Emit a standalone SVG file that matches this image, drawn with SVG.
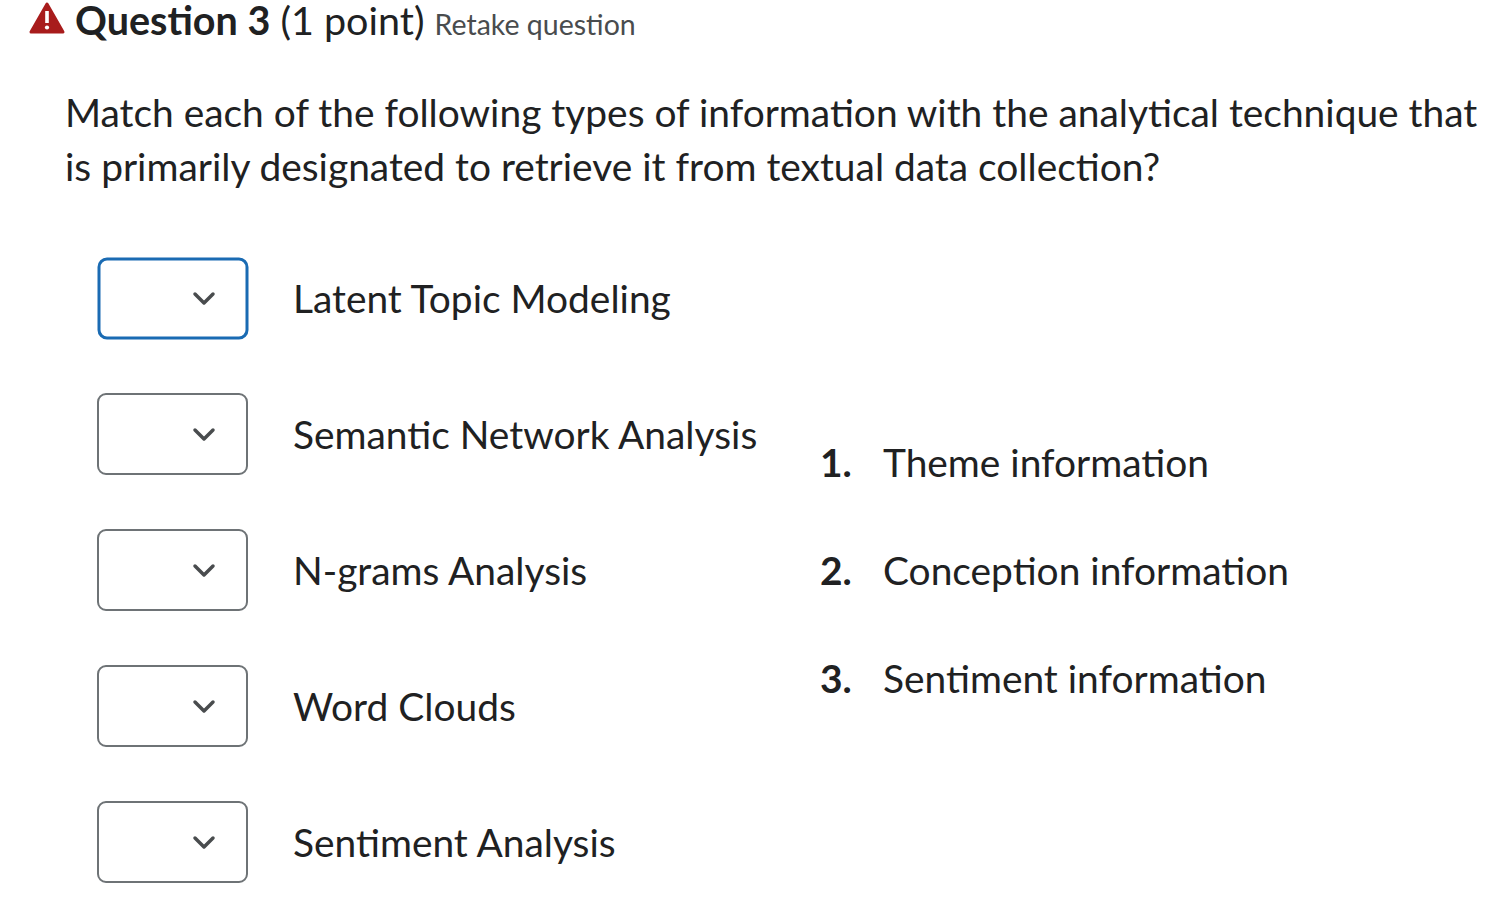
<svg xmlns="http://www.w3.org/2000/svg" width="1504" height="906" viewBox="0 0 1504 906">
<style>
text{font-family:Lato,"Noto Sans",sans-serif;fill:#202122}
.b{font-size:38.9px}
.box{fill:#fff;stroke:#6e7376;stroke-width:2}
.chev{fill:none;stroke:#494c4e;stroke-width:3.5;stroke-linecap:round;stroke-linejoin:round}
</style>
<rect width="1504" height="906" fill="#fff"/>
<g id="header">
<path d="M47 4 L63 32 L31 32 Z" fill="#a81c1c" stroke="#a81c1c" stroke-width="3" stroke-linejoin="round"/>
<rect x="45.2" y="11" width="3.6" height="12" fill="#fff"/>
<circle cx="47" cy="27.5" r="2.1" fill="#fff"/>
<text x="75" y="35" font-size="39.5"><tspan font-weight="bold">Question 3</tspan> (1 point) <tspan font-size="28.5" fill="#494c4e">Retake question</tspan></text>
</g>
<g id="prompt">
<text class="b" x="65" y="127">Match each of the following types of information with the analytical technique that</text>
<text class="b" x="65" y="181">is primarily designated to retrieve it from textual data collection?</text>
</g>
<g id="item1"><rect x="99" y="259" width="148" height="79" rx="8" fill="#fff" stroke="#1a6bb3" stroke-width="3"/><path class="chev" d="M195 294 L204 303 L213 294"/><text class="b" x="293" y="313">Latent Topic Modeling</text></g>
<g id="item2"><rect class="box" x="98" y="394" width="149" height="80" rx="8"/><path class="chev" d="M195 430 L204 439 L213 430"/><text class="b" x="293" y="449">Semantic Network Analysis</text></g>
<g id="item3"><rect class="box" x="98" y="530" width="149" height="80" rx="8"/><path class="chev" d="M195 566 L204 575 L213 566"/><text class="b" x="293" y="585">N-grams Analysis</text></g>
<g id="item4"><rect class="box" x="98" y="666" width="149" height="80" rx="8"/><path class="chev" d="M195 702 L204 711 L213 702"/><text class="b" x="293" y="721">Word Clouds</text></g>
<g id="item5"><rect class="box" x="98" y="802" width="149" height="80" rx="8"/><path class="chev" d="M195 838 L204 847 L213 838"/><text class="b" x="293" y="857">Sentiment Analysis</text></g>
<g id="list">
<text class="b" x="820" y="477"><tspan font-weight="bold">1.</tspan><tspan x="883">Theme information</tspan></text>
<text class="b" x="820" y="585"><tspan font-weight="bold">2.</tspan><tspan x="883">Conception information</tspan></text>
<text class="b" x="820" y="693"><tspan font-weight="bold">3.</tspan><tspan x="883">Sentiment information</tspan></text>
</g>
<g id="connectors"/>
</svg>
